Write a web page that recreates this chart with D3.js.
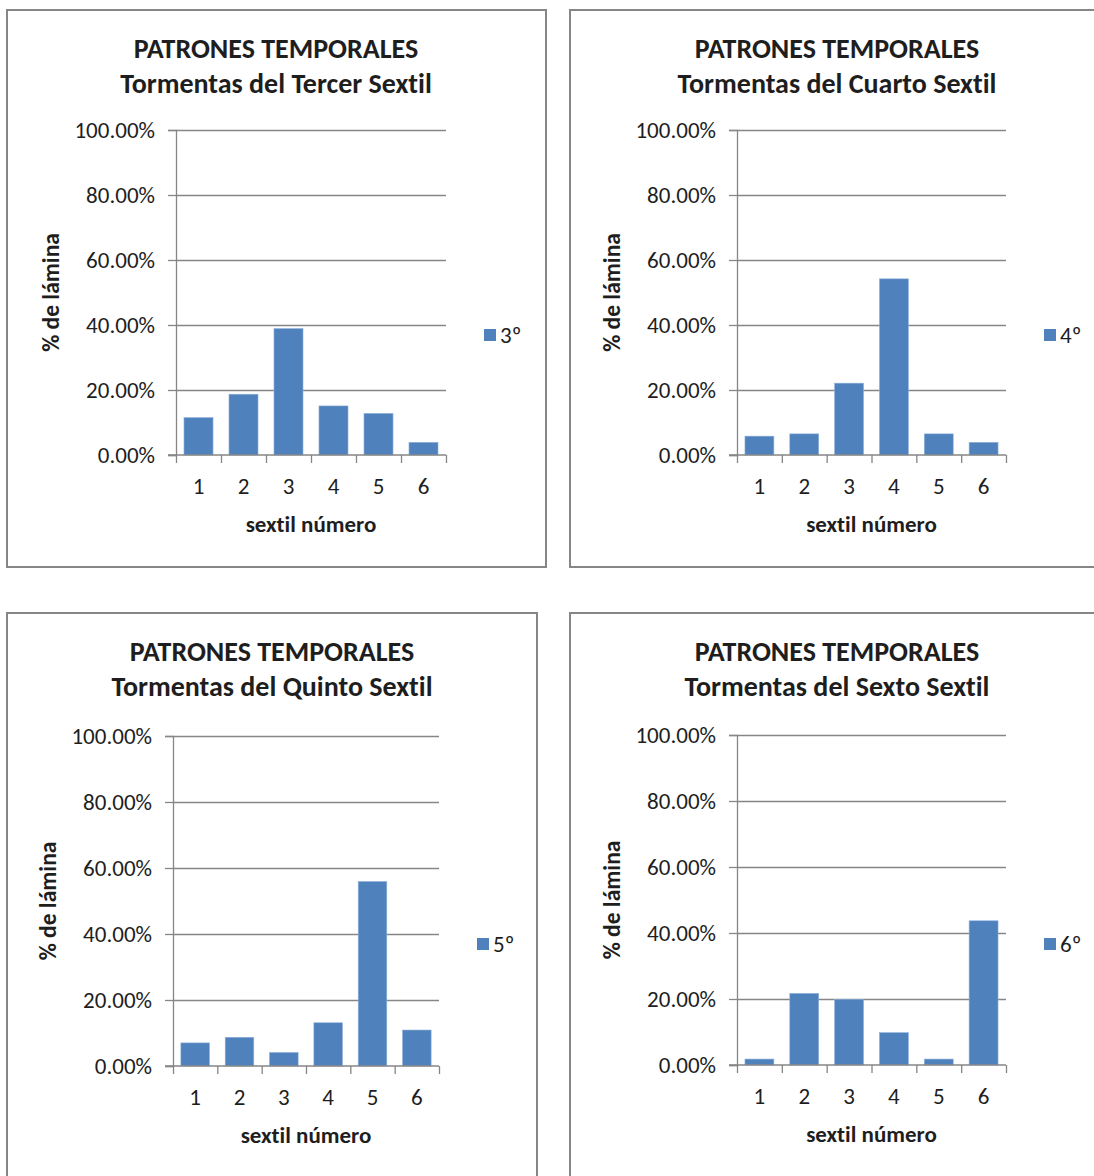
<!DOCTYPE html>
<html>
<head>
<meta charset="utf-8">
<script src="https://cdn.jsdelivr.net/npm/d3@7"></script>
<style>
  html, body { margin: 0; padding: 0; background: #ffffff; }
  svg { display: block; }
  text { font-family: Carlito, Lato, "Open Sans", sans-serif; fill: #1e1e1e;
         font-variant-ligatures: none; font-feature-settings: "liga" 0, "clig" 0; }
</style>
</head>
<body>
<svg id="chart" width="1094" height="1176"></svg>
<script>
// Sextile categories shared by every panel
const categories = ["1", "2", "3", "4", "5", "6"];

// Share of the sheet (fraction) per sextile, one series per storm group
const tercerSextil = [0.115, 0.187, 0.389, 0.151, 0.128, 0.039];
const cuartoSextil = [0.058, 0.065, 0.221, 0.542, 0.065, 0.039];
const quintoSextil = [0.070, 0.087, 0.041, 0.131, 0.559, 0.109];
const sextoSextil  = [0.018, 0.217, 0.199, 0.098, 0.018, 0.437];

// Y axis tick values and labels
const yTicks = [0, 0.2, 0.4, 0.6, 0.8, 1.0];

// Panel titles and legend entries
const titleLine1 = "PATRONES TEMPORALES";
const subtitles = [
  "Tormentas del Tercer Sextil",
  "Tormentas del Cuarto Sextil",
  "Tormentas del Quinto Sextil",
  "Tormentas del Sexto Sextil"
];
const legendLabels = ["3º", "4º", "5º", "6º"];
const seriesList = [tercerSextil, cuartoSextil, quintoSextil, sextoSextil];

const yTitle = "% de lámina";
const xTitle = "sextil número";

// Layout of the four chart boxes
const panels = [
  { frame: [7, 10, 539, 557],  plot: [176, 130, 446, 455],  legend: [484, 329], titleX: 276 },
  { frame: [570, 10, 540, 557], plot: [737, 130, 1006, 455], legend: [1044, 329], titleX: 837 },
  { frame: [7, 613, 530, 580], plot: [173, 736, 439, 1066], legend: [477, 938], titleX: 272 },
  { frame: [570, 613, 540, 580], plot: [737, 735, 1006, 1065], legend: [1044, 938], titleX: 837 }
];

const barColor = "#4f81bd";
const lineColor = "#868686";
const fontStack = "Carlito, Lato, sans-serif";

const svg = d3.select("#chart");

panels.forEach((p, i) => {
  const data = seriesList[i];
  const [fx, fy, fw, fh] = p.frame;
  const [x0, y0, x1, y1] = p.plot;
  const g = svg.append("g");

  // chart box
  g.append("rect")
    .attr("x", fx).attr("y", fy)
    .attr("width", fw).attr("height", fh)
    .attr("fill", "#ffffff")
    .attr("stroke", lineColor)
    .attr("stroke-width", 2);

  const x = d3.scaleBand()
    .domain(categories)
    .range([x0, x1])
    .paddingInner(0.355)
    .paddingOuter(0.355 / 2);

  const xEdges = d3.scaleLinear().domain([0, categories.length]).range([x0, x1]);

  const y = d3.scaleLinear().domain([0, 1]).range([y1, y0]);

  // horizontal gridlines
  g.append("g")
    .attr("transform", `translate(${x0},0)`)
    .call(d3.axisLeft(y).tickValues(yTicks.slice(1)).tickSize(-(x1 - x0)).tickFormat(""))
    .call(a => a.select(".domain").remove())
    .call(a => a.selectAll("line").attr("stroke", lineColor).attr("stroke-width", 1.3));

  // bars
  g.append("g")
    .selectAll("rect")
    .data(data)
    .join("rect")
    .attr("x", (d, k) => x(categories[k]))
    .attr("width", x.bandwidth())
    .attr("y", d => y(d))
    .attr("height", d => y(0) - y(d))
    .attr("fill", barColor)
    .attr("stroke", "#8eb1da")
    .attr("stroke-width", 0.6);

  // y axis
  const yAxis = g.append("g")
    .attr("transform", `translate(${x0},0)`)
    .call(d3.axisLeft(y).tickValues(yTicks).tickFormat(d3.format(".2%")).tickSize(8).tickPadding(13));
  yAxis.select(".domain").attr("stroke", lineColor).attr("stroke-width", 1.3);
  yAxis.selectAll("line").attr("stroke", lineColor).attr("stroke-width", 1.3);
  yAxis.selectAll("text").attr("font-size", 23).attr("fill", "#1e1e1e")
    .attr("font-family", fontStack);

  // x axis line and boundary ticks
  const xAxis = g.append("g")
    .attr("transform", `translate(0,${y1})`)
    .call(d3.axisBottom(xEdges).tickValues(d3.range(categories.length + 1)).tickSize(8).tickFormat(""));
  xAxis.select(".domain").attr("stroke", lineColor).attr("stroke-width", 1.3)
    .attr("d", `M${x0 - 8},0H${x1}`);
  xAxis.selectAll("line").attr("stroke", lineColor).attr("stroke-width", 1.3);

  // category labels
  const xLab = g.append("g")
    .attr("transform", `translate(0,${y1})`)
    .call(d3.axisBottom(x).tickSize(0).tickPadding(23));
  xLab.select(".domain").remove();
  xLab.selectAll("text").attr("font-size", 23).attr("fill", "#1e1e1e")
    .attr("font-family", fontStack);

  // titles
  g.append("text")
    .attr("x", p.titleX).attr("y", fy + 48)
    .attr("text-anchor", "middle")
    .attr("font-size", 28).attr("font-weight", "bold")
    .text(titleLine1);
  g.append("text")
    .attr("x", p.titleX).attr("y", fy + 83)
    .attr("text-anchor", "middle")
    .attr("font-size", 28).attr("font-weight", "bold")
    .text(subtitles[i]);

  // axis titles
  g.append("text")
    .attr("transform", `translate(${x0 - 117},${(y0 + y1) / 2}) rotate(-90)`)
    .attr("text-anchor", "middle")
    .attr("font-size", 23.5).attr("font-weight", "bold")
    .text(yTitle);
  g.append("text")
    .attr("x", (x0 + x1) / 2).attr("y", y1 + 77)
    .attr("text-anchor", "middle")
    .attr("font-size", 23).attr("font-weight", "bold")
    .text(xTitle);

  // legend
  const [lx, ly] = p.legend;
  g.append("rect")
    .attr("x", lx).attr("y", ly)
    .attr("width", 12).attr("height", 12)
    .attr("fill", barColor);
  g.append("text")
    .attr("x", lx + 16).attr("y", ly + 14)
    .attr("font-size", 23)
    .text(legendLabels[i]);
});
</script>
</body>
</html>
